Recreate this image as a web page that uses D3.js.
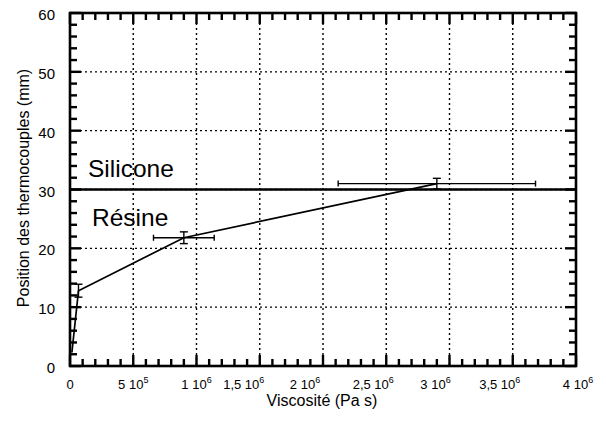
<!DOCTYPE html>
<html>
<head>
<meta charset="utf-8">
<script src="https://cdn.jsdelivr.net/npm/d3@7"></script>
<style>
  body { margin: 0; background: #fff; }
  svg { font-family: "Liberation Sans", Arial, sans-serif; }
</style>
</head>
<body>
<div id="chart"></div>
<script>
// measured points (viscosity in Pa s, thermocouple position in mm)
const viscosity = [1.5e4, 6.7e4, 9.0e5, 2.9e6];
const position = [2.3, 12.8, 21.8, 31];
const viscErr = [0, 0, 2.4e5, 7.8e5];
const posErr = [0, 1.1, 1.0, 0.9];
const siliconeLevel = 30;

const xTicks = [0, 5e5, 1e6, 1.5e6, 2e6, 2.5e6, 3e6, 3.5e6, 4e6];
const xTickLabels = [["0", ""], ["5 10", "5"], ["1 10", "6"], ["1,5 10", "6"], ["2 10", "6"],
    ["2,5 10", "6"], ["3 10", "6"], ["3,5 10", "6"], ["4 10", "6"]];
const yTicks = [0, 10, 20, 30, 40, 50, 60];
// the scanned labels drift a little to the left of their tick
const xLabelShift = [0, 0, 0, -16, -18, -13, -14, -13, 2];

const margin = { top: 13, right: 30, bottom: 66, left: 70 },
    width = 576 - margin.left,
    height = 366 - margin.top;

const svg = d3.select("#chart")
    .append("svg")
    .attr("width", 606)
    .attr("height", 432)
    .append("g")
    .attr("transform", `translate(${margin.left},${margin.top})`);

const x = d3.scaleLinear().domain([0, 4e6]).range([0, width]);
const y = d3.scaleLinear().domain([0, 60]).range([height, 0]);

// dotted grid
svg.append("g")
    .selectAll("line")
    .data(xTicks.slice(1, -1))
    .enter().append("line")
    .attr("x1", d => x(d)).attr("x2", d => x(d))
    .attr("y1", 0).attr("y2", height)
    .attr("stroke", "#000").attr("stroke-width", 1.4)
    .attr("stroke-dasharray", "2,3");

svg.append("g")
    .selectAll("line")
    .data(yTicks.slice(1, -1))
    .enter().append("line")
    .attr("x1", 0).attr("x2", width)
    .attr("y1", d => y(d)).attr("y2", d => y(d))
    .attr("stroke", "#000").attr("stroke-width", 1.4)
    .attr("stroke-dasharray", "2,3");

// inward ticks on all four sides
const xMinor = d3.range(0, 4e6 + 1, 1e5).map(d => ({ v: d, len: d % 5e5 === 0 ? 11 : 7 }));
const yMinor = d3.range(0, 61, 2).map(d => ({ v: d, len: d % 10 === 0 ? 11 : 7 }));

const tk = svg.append("g").attr("stroke", "#000").attr("stroke-width", 2.4);
[0, height].forEach(base => {
    const dir = base === 0 ? 1 : -1;
    tk.append("g").selectAll("line")
        .data(xMinor)
        .enter().append("line")
        .attr("x1", d => x(d.v)).attr("x2", d => x(d.v))
        .attr("y1", base).attr("y2", d => base + dir * d.len);
});
[0, width].forEach(base => {
    const dir = base === 0 ? 1 : -1;
    tk.append("g").selectAll("line")
        .data(yMinor)
        .enter().append("line")
        .attr("y1", d => y(d.v)).attr("y2", d => y(d.v))
        .attr("x1", base).attr("x2", d => base + dir * d.len);
});

// frame
svg.append("rect")
    .attr("width", width).attr("height", height)
    .attr("fill", "none").attr("stroke", "#000").attr("stroke-width", 2.6);

// tick labels
svg.append("g")
    .selectAll("text")
    .data(yTicks)
    .enter().append("text")
    .attr("x", -15).attr("y", d => y(d) + 7)
    .attr("text-anchor", "end")
    .style("font-size", "15px")
    .text(d => d);

const xl = svg.append("g")
    .selectAll("text")
    .data(xTicks)
    .enter().append("text")
    .attr("x", (d, i) => x(d) + xLabelShift[i]).attr("y", height + 23)
    .attr("text-anchor", "middle")
    .style("font-size", "13px");
xl.append("tspan").text((d, i) => xTickLabels[i][0]);
xl.append("tspan").attr("dy", -6).style("font-size", "9px").text((d, i) => xTickLabels[i][1]);

// axis titles
svg.append("text")
    .attr("x", 252).attr("y", height + 40)
    .attr("text-anchor", "middle")
    .style("font-size", "16px")
    .text("Viscosité (Pa s)");

svg.append("text")
    .attr("transform", "rotate(-90)")
    .attr("x", -175).attr("y", -41)
    .attr("text-anchor", "middle")
    .style("font-size", "16px")
    .text("Position des thermocouples (mm)");

// silicone / resin interface
svg.append("line")
    .attr("x1", 0).attr("x2", width)
    .attr("y1", y(siliconeLevel)).attr("y2", y(siliconeLevel))
    .attr("stroke", "#000").attr("stroke-width", 2.6);

svg.append("text")
    .attr("x", 18).attr("y", y(siliconeLevel) - 12.5)
    .style("font-size", "24.5px")
    .text("Silicone");

svg.append("text")
    .attr("x", 22).attr("y", y(siliconeLevel) + 36.5)
    .style("font-size", "24.5px")
    .text("Résine");

// measured profile
const pts = viscosity.map((v, i) => ({ v, p: position[i], ev: viscErr[i], ep: posErr[i] }));

svg.append("path")
    .datum(pts)
    .attr("fill", "none")
    .attr("stroke", "#000")
    .attr("stroke-width", 1.7)
    .attr("d", d3.line().x(d => x(d.v)).y(d => y(d.p)));

const eb = svg.append("g").attr("stroke", "#000").attr("stroke-width", 1.4);
pts.filter(d => d.ep > 0).forEach(d => {
    eb.append("line")
        .attr("x1", x(d.v)).attr("x2", x(d.v))
        .attr("y1", y(d.p - d.ep)).attr("y2", y(d.p + d.ep));
    [d.p - d.ep, d.p + d.ep].forEach(e => {
        eb.append("line")
            .attr("x1", x(d.v) - 4).attr("x2", x(d.v) + 4)
            .attr("y1", y(e)).attr("y2", y(e));
    });
});
pts.filter(d => d.ev > 0).forEach(d => {
    eb.append("line")
        .attr("x1", x(d.v - d.ev)).attr("x2", x(d.v + d.ev))
        .attr("y1", y(d.p)).attr("y2", y(d.p));
    [d.v - d.ev, d.v + d.ev].forEach(e => {
        eb.append("line")
            .attr("x1", x(e)).attr("x2", x(e))
            .attr("y1", y(d.p) - 3).attr("y2", y(d.p) + 3);
    });
});
</script>
</body>
</html>
